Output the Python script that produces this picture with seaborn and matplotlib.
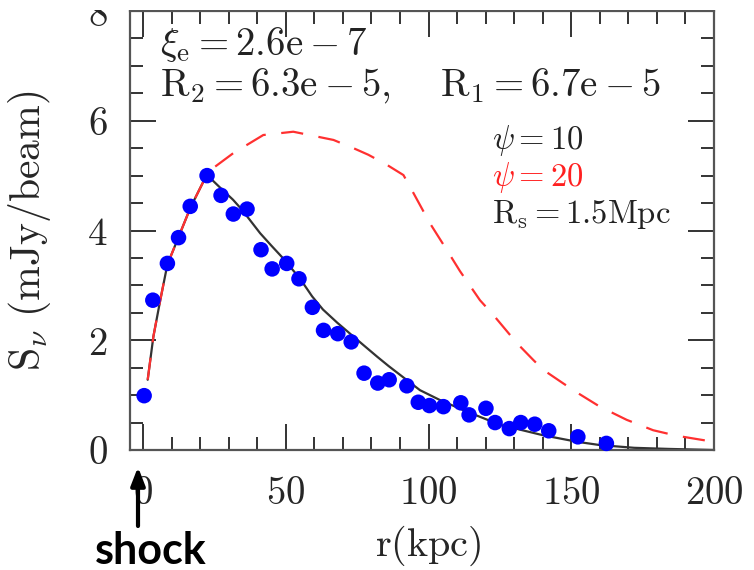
import matplotlib
matplotlib.use("Agg")
import matplotlib.pyplot as plt
from matplotlib.ticker import MultipleLocator, FuncFormatter
from matplotlib.patches import Rectangle
import seaborn as sns
import pandas as pd

# ---- data ----
obs_r = [0.35, 3.4, 8.5, 12.4, 16.5, 22.4, 27.3, 31.6, 36.4, 41.3, 45.2, 50.3, 54.6,
         59.3, 63.2, 68.2, 72.9, 77.4, 82.2, 86.2, 92.4, 96.4, 100.3, 105.2, 111.3,
         114.2, 120.1, 123.3, 128.3, 132.3, 137.2, 142.1, 152.3, 162.3]
obs_s = [0.99, 2.73, 3.40, 3.87, 4.44, 5.00, 4.64, 4.30, 4.39, 3.65, 3.30, 3.40, 3.12,
         2.60, 2.18, 2.12, 1.97, 1.40, 1.22, 1.28, 1.17, 0.87, 0.81, 0.79, 0.86,
         0.64, 0.76, 0.50, 0.39, 0.50, 0.47, 0.35, 0.24, 0.12]

psi10_r = [1.6, 3.6, 6, 8.5, 12.4, 16.6, 21.1, 22.6, 27, 31.5, 34.6, 41, 45, 49.1, 55,
           59.2, 63, 68, 72.5, 77, 82, 86, 90, 97, 104, 113.4, 125, 140, 152, 160, 172,
           184, 200]
psi10_s = [1.28, 2.07, 2.73, 3.38, 3.88, 4.42, 4.89, 5.0, 4.78, 4.56, 4.38, 3.95, 3.72,
           3.49, 3.12, 2.80, 2.56, 2.32, 2.12, 1.92, 1.70, 1.53, 1.37, 1.09, 0.91, 0.70,
           0.46, 0.27, 0.15, 0.09, 0.04, 0.02, 0.0]

psi20_r = [1.6, 3.6, 6, 8.5, 12.4, 16.6, 21.1, 24.6, 31.6, 42.1, 52.6, 66.7, 73.7, 78.9,
           85.3, 91.2, 94.1, 100.5, 106.7, 111, 118, 122.7, 130.9, 136.7, 140.2, 147,
           151.6, 160, 169.4, 178.7, 186.9, 195.1, 199.8]
psi20_s = [1.28, 2.07, 2.73, 3.38, 3.88, 4.42, 4.89, 5.14, 5.41, 5.74, 5.80, 5.65, 5.50,
           5.38, 5.20, 5.01, 4.74, 4.13, 3.62, 3.26, 2.73, 2.46, 1.95, 1.64, 1.46, 1.22,
           1.06, 0.79, 0.55, 0.36, 0.26, 0.19, 0.15]

x_ticks = [0, 50, 100, 150, 200]
y_ticks = [0, 2, 4, 6, 8]

sns.set_theme(style="ticks")
plt.rcParams["mathtext.fontset"] = "cm"
plt.rcParams["font.family"] = ["DejaVu Serif"]

fig = plt.figure(figsize=(7.54, 5.70), dpi=100)
ax = fig.add_axes([130 / 754, 1 - 450 / 570, (714 - 130) / 754, (450 - 11) / 570])

obs = pd.DataFrame({"r": obs_r, "s": obs_s})
m10 = pd.DataFrame({"r": psi10_r, "s": psi10_s})
m20 = pd.DataFrame({"r": psi20_r, "s": psi20_s})

sns.lineplot(data=m10, x="r", y="s", ax=ax, color="#333333", lw=1.6,
             estimator=None, sort=False, zorder=2)
sns.lineplot(data=m20, x="r", y="s", ax=ax, color="#ff3030", lw=1.6,
             estimator=None, sort=False, zorder=3)
ax.lines[-1].set_dashes((10, 7))
sns.scatterplot(data=obs, x="r", y="s", ax=ax, color="#0000ff", s=125,
                edgecolor="none", zorder=4, clip_on=False)

ax.set_xlim(-4.6, 200)
ax.set_ylim(0, 8)
ax.set_xticks(x_ticks)
ax.set_yticks(y_ticks)
ax.xaxis.set_minor_locator(MultipleLocator(10))
ax.yaxis.set_minor_locator(MultipleLocator(0.5))
fmt = FuncFormatter(lambda v, p: r"$%d$" % v)
ax.xaxis.set_major_formatter(fmt)
ax.yaxis.set_major_formatter(fmt)
ax.tick_params(which="both", direction="in", top=True, right=True,
               color="#333333", width=1.4)
ax.tick_params(which="major", length=19, labelsize=28)
ax.tick_params(which="minor", length=9.5)
ax.tick_params(axis="x", which="major", pad=18)
ax.tick_params(axis="y", which="major", pad=16)
for sp in ax.spines.values():
    sp.set_color("#555555")
    sp.set_linewidth(1.6)

ax.set_xlabel(r"$\mathrm{r(kpc)}$", fontsize=29)
ax.set_ylabel(r"$\mathrm{S}_\nu\ \mathrm{(mJy/beam)}$", fontsize=30)
ax.xaxis.set_label_coords(0.51, -0.168)
ax.yaxis.set_label_coords(-0.132, 0.5)

fig.text(160 / 754, 1 - 45 / 570, r"$\xi_{\rm e}=2.6{\rm e}-7$",
         fontsize=28, va="center", ha="left", color="#222222")
fig.text(160 / 754, 1 - 86 / 570, r"$\mathrm{R}_2=6.3\mathrm{e}-5,$",
         fontsize=28, va="center", ha="left", color="#222222")
fig.text(440 / 754, 1 - 86 / 570, r"$\mathrm{R}_1=6.7\mathrm{e}-5$",
         fontsize=28, va="center", ha="left", color="#222222")
fig.text(492 / 754, 1 - 140 / 570, r"$\psi=10$", fontsize=23.5,
         va="center", ha="left", color="#222222")
fig.text(492 / 754, 1 - 177 / 570, r"$\psi=20$", fontsize=23.5,
         va="center", ha="left", color="#ff2020")
fig.text(492 / 754, 1 - 214 / 570, r"$\mathrm{R}_\mathrm{s}=1.5\mathrm{Mpc}$",
         fontsize=23.5, va="center", ha="left", color="#222222")

fig.text(151 / 754, 1 - 551 / 570, "shock", fontsize=31, fontweight="bold",
         family=["Lato", "DejaVu Sans"], ha="center", va="center", color="black")
ax.annotate("", xy=(138 / 754, 1 - 467 / 570), xytext=(138 / 754, 1 - 526 / 570),
            xycoords="figure fraction", textcoords="figure fraction",
            arrowprops=dict(arrowstyle="-|>,head_width=0.35,head_length=0.9",
                            lw=3, color="black", shrinkA=0, shrinkB=0),
            annotation_clip=False)

# the reference image is trimmed just above the top frame
fig.patches.append(Rectangle((0, 1 - 9.5 / 570), 1, 9.5 / 570, transform=fig.transFigure,
                             facecolor="white", edgecolor="none", zorder=10))

fig.savefig("out.png", dpi=100)
